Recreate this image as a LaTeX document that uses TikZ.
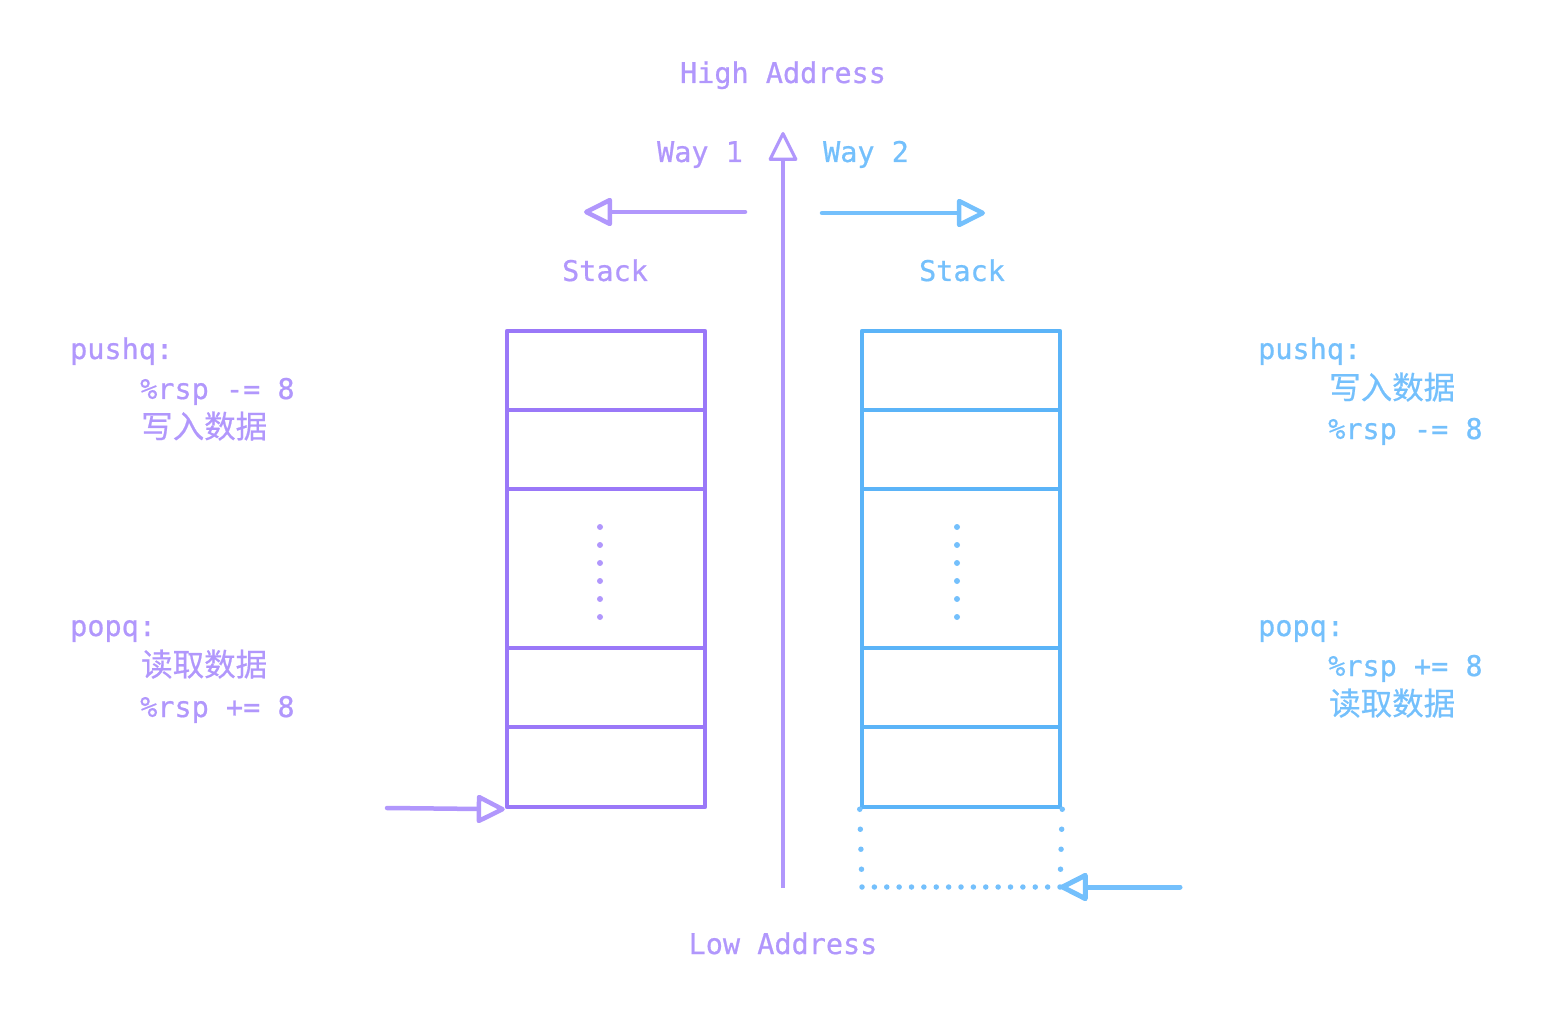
\documentclass[tikz,border=0pt]{standalone}
\usepackage{fontspec}
\usetikzlibrary{arrows.meta}
\newfontfamily\monof[FakeBold=0.7]{DejaVu Sans Mono}
\newfontfamily\cjkf[FakeBold=0.5]{Noto Sans CJK SC}
\definecolor{pboxc}{HTML}{9A78F8}
\definecolor{ptxt}{HTML}{B197FC}
\definecolor{bboxc}{HTML}{5BB4F8}
\definecolor{btxt}{HTML}{74C0FC}
\tikzset{
  lbl/.style={inner sep=0pt, anchor=base, font=\monof\fontsize{28.5}{34}\selectfont},
  lblw/.style={lbl, anchor=base west},
  cjkw/.style={inner sep=0pt, anchor=base west, font=\cjkf\fontsize{31.5}{34}\selectfont},
  opentip/.style={-{Triangle[open, length=31pt 0 0, width=30pt 0 0, line join=round]}},
  pbox/.style={draw=pboxc, line width=4.5pt, line join=round},
  bbox/.style={draw=bboxc, line width=4.5pt, line join=round},
  dotfill/.style={circle, inner sep=0pt, minimum size=6pt},
}
\begin{document}
\begin{tikzpicture}[x=1pt,y=-1pt]
\useasboundingbox (0,0) rectangle (1548,1016);

% titles
\node[lbl, text=ptxt] (high) at (783,83) {High Address};
\node[lbl, text=ptxt] (low) at (783,954) {Low Address};
\node[lbl, text=ptxt] (way1) at (700,162) {Way 1};
\node[lbl, text=btxt] (way2) at (866,162) {Way 2};
\node[lbl, text=ptxt] (stackL) at (605,281) {Stack};
\node[lbl, text=btxt] (stackR) at (962,281) {Stack};

% axis
\coordinate (axbot) at (783,888);
\coordinate (axtop) at (783,132);
\draw[ptxt, line width=3.2pt, opentip] (axbot) -- (axtop);

% direction arrows
\coordinate (w1s) at (745,212);
\coordinate (w1e) at (584,212);
\coordinate (w2s) at (822,213);
\coordinate (w2e) at (985,213);
\draw[ptxt, line width=4.5pt, line cap=round, opentip] (w1s) -- (w1e);
\draw[btxt, line width=4.5pt, line cap=round, opentip] (w2s) -- (w2e);

% left stack
\node[pbox, minimum width=198pt, minimum height=476pt, inner sep=0pt] (SL) at (606,569) {};
\foreach \yy in {410,489,648,727} \draw[pboxc, line width=4.5pt] (507,\yy) -- (705,\yy);
\foreach \yy in {527,545,563,581,599,617} \node[dotfill, fill=ptxt] at (600,\yy) {};

% right stack
\node[bbox, minimum width=198pt, minimum height=476pt, inner sep=0pt] (SR) at (961,569) {};
\foreach \yy in {410,489,648,727} \draw[bboxc, line width=4.5pt] (862,\yy) -- (1060,\yy);
\foreach \yy in {527,545,563,581,599,617} \node[dotfill, fill=btxt] at (957,\yy) {};

% dotted extension
\coordinate (ext1) at (862,887);
\coordinate (ext2) at (1060,887);
\draw[btxt, line width=5.5pt, line cap=round, dash pattern=on 0pt off 20pt] (SR.south west) -- (ext1);
\draw[btxt, line width=5.5pt, line cap=round, dash pattern=on 0pt off 20pt] (SR.south east) -- (ext2);
\draw[btxt, line width=5.5pt, line cap=round, dash pattern=on 0pt off 12.375pt] (ext1) -- (ext2);

% rsp arrows
\coordinate (pin) at (387,808);
\draw[ptxt, line width=4.5pt, line cap=round, opentip] (pin) -- (SL.south west);
\coordinate (bin) at (1180,887);
\draw[btxt, line width=5pt, line cap=round, opentip] (bin) -- (ext2);

% left text
\node[lblw, text=ptxt] (lpush) at (70,359) {pushq:};
\node[lblw, text=ptxt] (lsub) at (140,399) {\%rsp -= 8};
\node[cjkw, text=ptxt] (lwr) at (141,438) {写入数据};
\node[lblw, text=ptxt] (lpop) at (70,636) {popq:};
\node[cjkw, text=ptxt] (lrd) at (141,676) {读取数据};
\node[lblw, text=ptxt] (ladd) at (140,717) {\%rsp += 8};

% right text
\node[lblw, text=btxt] (rpush) at (1258,359) {pushq:};
\node[cjkw, text=btxt] (rwr) at (1329,399) {写入数据};
\node[lblw, text=btxt] (rsub) at (1328,439) {\%rsp -= 8};
\node[lblw, text=btxt] (rpop) at (1258,636) {popq:};
\node[lblw, text=btxt] (radd) at (1328,676) {\%rsp += 8};
\node[cjkw, text=btxt] (rrd) at (1329,715) {读取数据};
\end{tikzpicture}
\end{document}
